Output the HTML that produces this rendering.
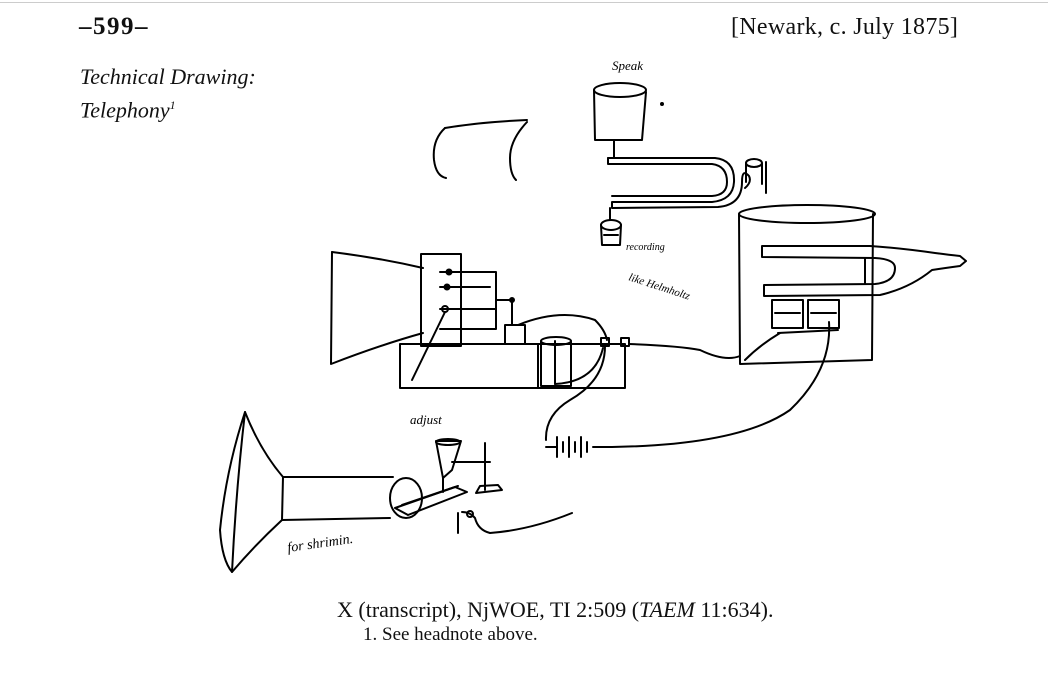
<!DOCTYPE html>
<html><head><meta charset="utf-8"><style>
html,body{margin:0;padding:0;background:#fff;}
body{width:1048px;height:685px;position:relative;overflow:hidden;font-family:"Liberation Serif",serif;color:#111;}
.t{position:absolute;white-space:nowrap;}
</style></head><body>
<div style="position:absolute;left:0;top:2px;width:1048px;height:1px;background:#ccc"></div>
<div class="t" style="left:79px;top:13px;font-size:25px;font-weight:bold;letter-spacing:1.5px;">–599–</div>
<div class="t" style="left:731px;top:14px;font-size:24px;letter-spacing:0.3px;">[Newark, c. July 1875]</div>
<div class="t" style="left:80px;top:63px;font-size:22px;font-style:italic;line-height:28px;">Technical Drawing:<br>Telephony<sup style="font-size:12px">1</sup></div>
<div class="t" style="left:337px;top:597px;font-size:22px;">X (transcript), NjWOE, TI 2:509 (<i>TAEM</i> 11:634).</div>
<div class="t" style="left:363px;top:624px;font-size:19px;">1. See headnote above.</div>
<svg width="1048" height="685" style="position:absolute;left:0;top:0" fill="none" stroke="#000" stroke-width="2" stroke-linecap="round" stroke-linejoin="round">
<path d="M445 128 Q432 140 434 160 Q436 176 446 178"/>
<path d="M445 128 Q480 122 527 120"/>
<path d="M527 122 Q510 140 510 158 Q510 174 516 180"/>
<ellipse cx="620" cy="90" rx="26" ry="7"/>
<path d="M594 90 L595 140 L642 140 L646 92"/>
<path d="M614 140 L614 158"/>
<text x="612" y="70" font-family="Liberation Serif" font-style="italic" font-size="13" fill="#000" stroke="none">Speak</text>
<circle cx="662" cy="104" r="1" fill="#000"/>
<path d="M608 158 L715 158 Q735 160 734 182 Q733 200 712 202 L612 202 L612 208 L718 207 Q742 205 742 182 Q742 168 749 176 Q752 182 745 188"/>
<path d="M608 158 L608 164 L712 164 Q727 166 727 182 Q727 195 712 196 L612 196"/>
<ellipse cx="754" cy="163" rx="8" ry="4"/>
<path d="M746 163 L746 182 M762 163 L762 184"/>
<path d="M766 162 L766 193"/>
<path d="M610 208 L610 220"/>
<ellipse cx="611" cy="225" rx="10" ry="5"/>
<path d="M601 225 L602 245 L620 245 L621 225 M604 235 L618 235"/>
<text x="626" y="250" font-family="Liberation Serif" font-style="italic" font-size="10" fill="#000" stroke="none">recording</text>
<text x="628" y="280" font-family="Liberation Serif" font-style="italic" font-size="11" fill="#000" stroke="none" transform="rotate(18 628 280)">like Helmholtz</text>
<ellipse cx="807" cy="214" rx="68" ry="9"/>
<path d="M739 214 L740 364 L872 360 L873 214"/>
<path d="M762 246 L870 246 Q900 248 935 253 Q950 255 960 256 L966 261 L960 266 Q945 268 932 270 Q910 288 880 295 L764 296 L764 285 L875 284 Q895 282 895 268 Q895 259 875 258 L762 257 Z"/>
<path d="M865 258 L865 284"/>
<rect x="772" y="300" width="31" height="28"/>
<rect x="808" y="300" width="31" height="28"/>
<path d="M775 313 L800 313 M811 313 L836 313"/>
<path d="M778 333 L838 330"/>
<path d="M332 252 Q380 258 423 268"/>
<path d="M332 252 L331 364 Q380 345 423 333"/>
<rect x="421" y="254" width="40" height="92"/>
<path d="M440 272 L496 272 L496 329 L440 329"/>
<path d="M440 287 L490 287 M440 309 L496 309"/>
<circle cx="449" cy="272" r="2.5" fill="#000"/>
<circle cx="447" cy="287" r="2.5" fill="#000"/>
<circle cx="445" cy="309" r="3"/>
<path d="M445 312 L412 380"/>
<path d="M496 300 L512 300 L512 325"/>
<circle cx="512" cy="300" r="2" fill="#000"/>
<path d="M505 325 L525 325 L525 344 M505 325 L505 344"/>
<path d="M400 344 L625 344 L625 388 L400 388 Z"/>
<path d="M538 344 L538 388"/>
<path d="M518 325 Q560 308 595 320 Q605 330 607 340"/>
<ellipse cx="556" cy="341" rx="15" ry="4"/>
<path d="M541 341 L541 386 L571 386 L571 341 M555 341 L555 384"/>
<path d="M555 384 Q595 382 603 348"/>
<rect x="601" y="338" width="8" height="8"/>
<rect x="621" y="338" width="8" height="8"/>
<path d="M629 344 Q680 346 700 350 Q725 362 740 356"/>
<path d="M605 346 Q605 380 570 400 Q545 415 546 440"/>
<path d="M829 322 Q832 370 790 410 Q740 445 612 447"/>
<path d="M745 360 Q760 345 780 333"/>
<path d="M546 447 L557 447 M557 437 L557 457 M563 442 L563 452 M569 437 L569 457 M575 442 L575 452 M581 437 L581 457 M587 442 L587 452 M593 447 L612 447"/>
<path d="M245 412 Q226 470 220 530 Q222 560 232 572 Q236 490 245 412 Z"/>
<path d="M245 412 Q260 450 283 477 L393 477"/>
<path d="M232 572 Q255 545 282 520 L390 518"/>
<path d="M283 477 L282 520"/>
<ellipse cx="406" cy="498" rx="16" ry="20"/>
<path d="M395 508 L455 487 L467 492 L408 515 Z"/>
<path d="M402 505 L458 486"/>
<path d="M436 441 L461 441 L452 470 L443 478 Z"/>
<ellipse cx="448" cy="442" rx="12" ry="3"/>
<path d="M443 478 L443 492"/>
<path d="M452 462 L490 462 M485 443 L485 490"/>
<path d="M476 493 L502 490 L498 485 L480 486 Z"/>
<path d="M458 513 L458 533 M462 512 Q470 512 475 518 Q478 530 490 533 Q530 530 572 513"/>
<circle cx="470" cy="514" r="3"/>
<text x="410" y="424" font-family="Liberation Serif" font-style="italic" font-size="13" fill="#000" stroke="none">adjust</text>
<text x="288" y="552" font-family="Liberation Serif" font-style="italic" font-size="14" fill="#000" stroke="none" transform="rotate(-8 288 552)">for shrimin.</text>
</svg>
</body></html>
